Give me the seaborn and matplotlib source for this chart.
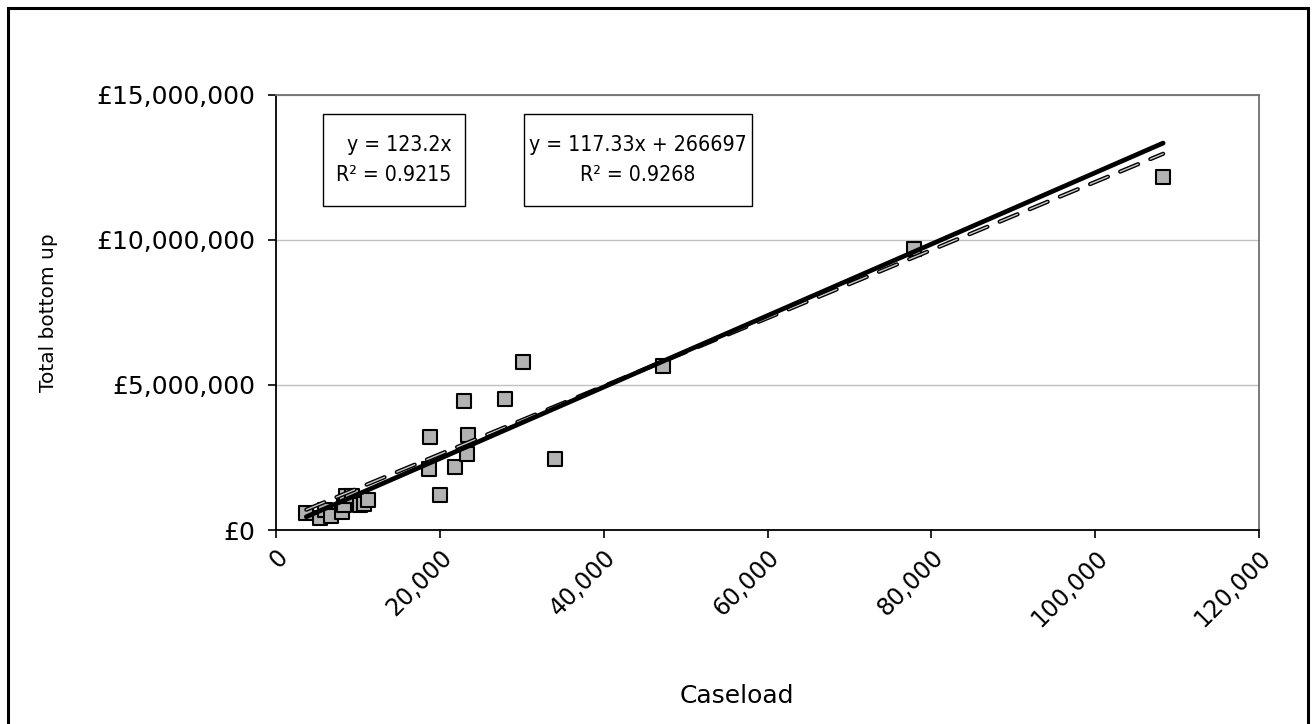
import matplotlib
matplotlib.use("Agg")
import matplotlib.pyplot as plt
from matplotlib import font_manager
from matplotlib.patches import Rectangle
from matplotlib.ticker import FuncFormatter
import numpy as np
import pandas as pd
import seaborn as sns

# data
caseload = [3700, 5400, 6000, 6700, 8000, 8300, 8600, 9300, 10300, 10800, 11200,
            18800, 18700, 20000, 21900, 22900, 23400, 23300, 27900, 30100, 34000,
            47300, 77900, 108300]
bottom_up = [0.60, 0.40, 0.70, 0.50, 0.62, 0.87, 1.18, 1.17, 0.85, 0.90, 1.02,
             3.20, 2.09, 1.21, 2.16, 4.46, 3.28, 2.62, 4.51, 5.80, 2.44,
             5.64, 9.69, 12.16]  # millions
bottom_up = [v * 1e6 for v in bottom_up]

# trendlines: (slope, intercept)
fit_origin = (123.2, 0.0)
fit_linear = (117.33, 266697.0)
eq_origin = "y = 123.2x\nR² = 0.9215"
eq_linear = "y = 117.33x + 266697\nR² = 0.9268"

x_ticks = [0, 20000, 40000, 60000, 80000, 100000, 120000]
y_ticks = [0, 5e6, 10e6, 15e6]

df = pd.DataFrame({"Caseload": caseload, "Total bottom up": bottom_up})

sns.set_style("white")
plt.rcParams["font.family"] = ["DejaVu Sans"]
plt.rcParams["lines.scale_dashes"] = False
plt.rcParams["text.color"] = "black"
plt.rcParams["axes.labelcolor"] = "black"
plt.rcParams["xtick.color"] = "black"
plt.rcParams["ytick.color"] = "black"

names = {f.name for f in font_manager.fontManager.ttflist}
if "Liberation Sans Narrow" in names:
    narrow = dict(family=["Liberation Sans Narrow", "DejaVu Sans"], fontsize=19)
else:
    narrow = dict(family=["DejaVu Sans"], stretch="condensed", fontsize=15.2)

fig = plt.figure(figsize=(13.16, 7.24), dpi=100)
ax = fig.add_axes([276 / 1316, 1 - 530 / 724, 983 / 1316, 435 / 724])

sns.scatterplot(data=df, x="Caseload", y="Total bottom up", ax=ax, marker="s",
                s=100, color="#b2b2b2", edgecolor="black", linewidth=1.5, zorder=3)

xr = np.array([min(caseload), max(caseload)])
ax.plot(xr, fit_origin[0] * xr + fit_origin[1], color="black", lw=3.4,
        solid_capstyle="round", zorder=5)
yl = fit_linear[0] * xr + fit_linear[1]
ax.plot(xr, yl, color="black", lw=3.0, dashes=(14, 9.5),
        dash_capstyle="round", zorder=4)
ax.plot(xr, yl, color="#c8c8c8", lw=1.0, dashes=(14, 9.5),
        dash_capstyle="round", zorder=4.1)

ax.set_xlim(0, 120000)
ax.set_ylim(0, 15e6)
ax.set_xticks(x_ticks)
ax.set_yticks(y_ticks)
ax.xaxis.set_major_formatter(FuncFormatter(lambda v, p: f"{v:,.0f}"))
ax.yaxis.set_major_formatter(FuncFormatter(lambda v, p: f"£{v:,.0f}"))
ax.grid(axis="y", color="#c0c0c0", lw=1)
ax.set_axisbelow(True)

for lab in ax.get_xticklabels():
    lab.set_rotation(45)
    lab.set_ha("right")
    lab.set_rotation_mode("anchor")
ax.tick_params(axis="x", labelsize=17, length=6, width=1.2, direction="out",
               bottom=True, pad=5)
ax.tick_params(axis="y", labelsize=18, length=6, width=1.2, direction="out",
               left=True, pad=9)

for s in ["left", "bottom"]:
    ax.spines[s].set_color("black")
    ax.spines[s].set_linewidth(1.3)
for s in ["top", "right"]:
    ax.spines[s].set_color("#707070")
    ax.spines[s].set_linewidth(1.3)

ax.set_xlabel("Caseload", fontsize=18)
ax.set_ylabel("Total bottom up", fontsize=14.5)
ax.xaxis.set_label_coords(0.469, -0.355)
ax.yaxis.set_label_coords(-0.222, 0.5)

# equation boxes
for (x0, x1), txt, ma in [((0.0475, 0.1926), eq_origin, "right"),
                          ((0.2523, 0.4839), eq_linear, "center")]:
    ax.add_patch(Rectangle((x0, 0.7455), x1 - x0, 0.2101, transform=ax.transAxes,
                           fill=True, facecolor="white", edgecolor="black",
                           lw=1.0, zorder=6))
    ax.text((x0 + x1) / 2, 0.8506, txt, transform=ax.transAxes, ha="center",
            va="center", multialignment=ma, linespacing=1.6,
            zorder=7, **narrow)

# outer chart border
fig.patches.append(Rectangle((8 / 1316, -0.02), 1300 / 1316, 1.02 - 8 / 724,
                             transform=fig.transFigure, fill=False,
                             edgecolor="black", lw=2.2))

fig.savefig("out.png", dpi=100)
